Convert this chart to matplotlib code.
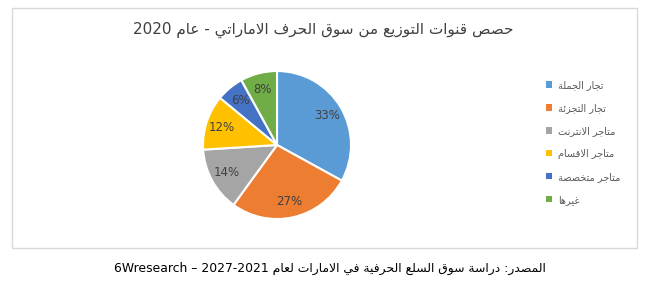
import re
import matplotlib
matplotlib.use('Agg')
import matplotlib.pyplot as plt
from matplotlib.patches import Patch, Rectangle

# ── Data ──────────────────────────────────────────────────────────────────────
TITLE = 'حصص قنوات التوزيع من سوق الحرف الاماراتي - عام 2020'
SOURCE = 'المصدر: دراسة سوق السلع الحرفية في الامارات لعام 2021-2027 – 6Wresearch'
channels = ['تجار الجملة', 'تجار التجزئة', 'متاجر الانترنت', 'متاجر الاقسام', 'متاجر متخصصة', 'غيرها']
shares = [33, 27, 14, 12, 6, 8]
colors = ['#5B9BD5', '#ED7D31', '#A5A5A5', '#FFC000', '#4472C4', '#70AD47']

# ── Arabic shaping (matplotlib has no complex text layout) ───────────────────
# letter -> (isolated presentation form, number of forms)
FORMS = {
    'ء': (0xFE80, 1), 'آ': (0xFE81, 2), 'أ': (0xFE83, 2), 'ؤ': (0xFE85, 2), 'إ': (0xFE87, 2),
    'ئ': (0xFE89, 4), 'ا': (0xFE8D, 2), 'ب': (0xFE8F, 4), 'ة': (0xFE93, 2), 'ت': (0xFE95, 4),
    'ث': (0xFE99, 4), 'ج': (0xFE9D, 4), 'ح': (0xFEA1, 4), 'خ': (0xFEA5, 4), 'د': (0xFEA9, 2),
    'ذ': (0xFEAB, 2), 'ر': (0xFEAD, 2), 'ز': (0xFEAF, 2), 'س': (0xFEB1, 4), 'ش': (0xFEB5, 4),
    'ص': (0xFEB9, 4), 'ض': (0xFEBD, 4), 'ط': (0xFEC1, 4), 'ظ': (0xFEC5, 4), 'ع': (0xFEC9, 4),
    'غ': (0xFECD, 4), 'ف': (0xFED1, 4), 'ق': (0xFED5, 4), 'ك': (0xFED9, 4), 'ل': (0xFEDD, 4),
    'م': (0xFEE1, 4), 'ن': (0xFEE5, 4), 'ه': (0xFEE9, 4), 'و': (0xFEED, 2), 'ى': (0xFEEF, 2),
    'ي': (0xFEF1, 4),
}
LAM_ALEF = {'ا': 0xFEFB, 'أ': 0xFEF7, 'إ': 0xFEF9, 'آ': 0xFEF5}


def shape(s):
    out = []
    i = 0
    prev_joins = False
    while i < len(s):
        c = s[i]
        if c not in FORMS:
            out.append(c)
            prev_joins = False
            i += 1
            continue
        nxt = s[i + 1] if i + 1 < len(s) else ''
        if c == 'ل' and nxt in LAM_ALEF:
            out.append(chr(LAM_ALEF[nxt] + int(prev_joins)))
            prev_joins = False
            i += 2
            continue
        base, n = FORMS[c]
        next_joins = n == 4 and nxt in FORMS
        if n == 1:
            form = 0
        elif prev_joins and next_joins:
            form = 3
        elif prev_joins:
            form = 1
        elif next_joins:
            form = 2
        else:
            form = 0
        out.append(chr(base + form))
        prev_joins = n == 4
        i += 1
    # right-to-left line, latin / digit runs keep their own order
    runs = re.findall(r'[A-Za-z0-9]+|.', ''.join(out))
    return ''.join(reversed(runs))


# ── Figure ────────────────────────────────────────────────────────────────────
W, H = 656, 288
fig = plt.figure(figsize=(W / 100, H / 100), dpi=100)

fig.add_artist(Rectangle((12 / W, 1 - 248 / H), 625 / W, 240 / H,
                         transform=fig.transFigure, fill=False,
                         edgecolor='#D9D9D9', linewidth=1))

ax = fig.add_axes([203 / W, 1 - 219 / H, 148 / W, 148 / H])
wedges, texts, autotexts = ax.pie(
    shares, colors=colors, startangle=90, counterclock=False,
    autopct=lambda p: '{:.0f}%'.format(p), pctdistance=0.78,
    wedgeprops=dict(edgecolor='white', linewidth=1.5),
    textprops=dict(color='#404040', fontsize=8.5))
ax.set_xlim(-1, 1)
ax.set_ylim(-1, 1)

fig.text(323 / W, 1 - 30 / H, shape(TITLE), ha='center', va='center',
         fontsize=11, color='#404040')

handles = [Patch(facecolor=c) for c in colors]
fig.legend(handles, [shape(c) for c in channels], loc='upper left',
           bbox_to_anchor=(546 / W, 1 - 80 / H), frameon=False, fontsize=7,
           handlelength=0.6, handleheight=0.6, handletextpad=0.6,
           labelspacing=1.33, borderpad=0, borderaxespad=0, labelcolor='#595959')

fig.text(330 / W, 1 - 268 / H, shape(SOURCE), ha='center', va='center',
         fontsize=8.9, color='black')

fig.savefig('out.png', dpi=100)
